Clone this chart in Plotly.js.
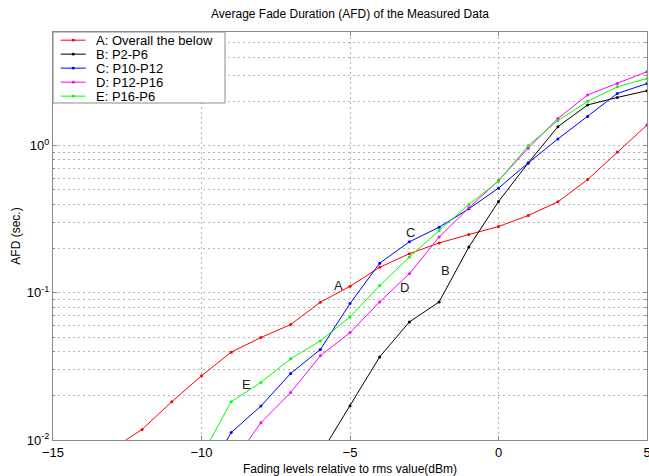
<!DOCTYPE html>
<html>
<head>
<meta charset="utf-8">
<script src="https://cdn.plot.ly/plotly-3.0.1.min.js"></script>
<style>
  html, body { margin: 0; padding: 0; background: #fff; }
  #chart { width: 649px; height: 476px; }
</style>
</head>
<body>
<div id="chart"></div>
<script>
// Fading level (dBm, relative to rms) for each measurement group
const levelsA = [-13, -12, -11, -10, -9, -8, -7, -6, -5, -4, -3, -2, -1, 0, 1, 2, 3, 4, 5];
const levelsB = [-6, -5, -4, -3, -2, -1, 0, 1, 2, 3, 4, 5];
const levelsC = [-10, -9, -8, -7, -6, -5, -4, -3, -2, -1, 0, 1, 2, 3, 4, 5];
const levelsD = [-9, -8, -7, -6, -5, -4, -3, -2, -1, 0, 1, 2, 3, 4, 5];
const levelsE = [-10, -9, -8, -7, -6, -5, -4, -3, -2, -1, 0, 1, 2, 3, 4, 5];

// Average fade duration (sec.)
const afdA = [0.0087, 0.0118, 0.0182, 0.0273, 0.0395, 0.0497, 0.0608, 0.0863, 0.1107, 0.149,
              0.1845, 0.218, 0.249, 0.282, 0.335, 0.415, 0.588, 0.906, 1.38];
const afdB = [0.008, 0.0171, 0.0367, 0.0634, 0.0867, 0.2045, 0.417, 0.763, 1.345, 1.89, 2.125, 2.36];
const afdC = [0.005, 0.01125, 0.017, 0.0283, 0.0412, 0.0845, 0.159, 0.222, 0.279, 0.372,
              0.514, 0.763, 1.11, 1.58, 2.26, 2.64];
const afdD = [0.0068, 0.0131, 0.021, 0.0373, 0.0537, 0.0867, 0.135, 0.239, 0.378, 0.579,
              0.96, 1.53, 2.21, 2.64, 3.18];
const afdE = [0.0078, 0.0182, 0.0246, 0.0356, 0.0471, 0.0686, 0.112, 0.175, 0.265, 0.398,
              0.573, 1.0, 1.48, 2.0, 2.51, 2.86];

const seriesNames = ['A: Overall the below', 'B: P2-P6', 'C: P10-P12', 'D: P12-P16', 'E: P16-P6'];
const seriesColors = ['#ff0000', '#000000', '#0000ff', '#ff00ff', '#00ff00'];

// Curve tags placed beside each line: [letter, level, AFD]
const curveTags = [
  ['A', -5.39, 0.1125],
  ['B', -1.79, 0.142],
  ['C', -2.95, 0.258],
  ['D', -3.15, 0.1095],
  ['E', -8.47, 0.024]
];

const yTickVals = [0.01, 0.1, 1];
const yTickText = ['10<sup>-2</sup>', '10<sup>-1</sup>', '10<sup>0</sup>'];
const xTickVals = [-15, -10, -5, 0, 5];

const allLevels = [levelsA, levelsB, levelsC, levelsD, levelsE];
const allAfd = [afdA, afdB, afdC, afdD, afdE];

const traces = allLevels.map((lv, i) => ({
  type: 'scatter',
  mode: 'lines+markers',
  name: seriesNames[i],
  x: lv,
  y: allAfd[i],
  line: { color: seriesColors[i], width: 1 },
  marker: { color: seriesColors[i], size: 3 },
  showlegend: false
}));

const fontFam = '"Liberation Sans", Arial, Helvetica, sans-serif';
const gridCol = '#b4b4b4';
const gridDash = '2px,3px';
const axisCol = '#8a8a8a';

// Compact boxed key in the upper-left corner of the axes (paper units)
const key = { left: 0, right: 0.2896, top: 1, bottom: 0.826,
              lineX0: 0.013, lineX1: 0.055, textX: 0.069,
              firstRow: 0.980, rowStep: 0.0343 };

const keyShapes = [{
  type: 'rect', xref: 'paper', yref: 'paper', layer: 'above',
  x0: key.left, x1: key.right, y0: key.bottom, y1: key.top,
  fillcolor: '#ffffff', line: { color: axisCol, width: 1 }
}];
const keyNotes = [];
seriesNames.forEach((nm, i) => {
  const ry = key.firstRow - i * key.rowStep;
  keyShapes.push({
    type: 'line', xref: 'paper', yref: 'paper', layer: 'above',
    x0: key.lineX0, x1: key.lineX1, y0: ry, y1: ry,
    line: { color: seriesColors[i], width: 1 }
  });
  const cx = (key.lineX0 + key.lineX1) / 2;
  keyShapes.push({
    type: 'circle', xref: 'paper', yref: 'paper', layer: 'above',
    x0: cx - 0.0025, x1: cx + 0.0025, y0: ry - 0.0035, y1: ry + 0.0035,
    fillcolor: seriesColors[i], line: { color: seriesColors[i], width: 0 }
  });
  keyNotes.push({
    xref: 'paper', yref: 'paper', x: key.textX, y: ry,
    xanchor: 'left', yanchor: 'middle', showarrow: false,
    text: nm, font: { family: fontFam, size: 13, color: '#000' }
  });
});

const tagNotes = curveTags.map(t => ({
  x: t[1], y: Math.log10(t[2]), xref: 'x', yref: 'y',
  text: t[0], showarrow: false,
  font: { family: fontFam, size: 13, color: '#222' }
}));

const layout = {
  width: 649,
  height: 476,
  margin: { l: 53, r: 2, t: 32, b: 36 },
  paper_bgcolor: '#ffffff',
  plot_bgcolor: '#ffffff',
  font: { family: fontFam, size: 12, color: '#000' },
  title: {
    text: 'Average Fade Duration (AFD) of the Measured Data',
    font: { family: fontFam, size: 12, color: '#000' },
    x: 0.5, xanchor: 'center', xref: 'paper',
    y: 0.97, yanchor: 'middle'
  },
  xaxis: {
    range: [-15, 5],
    tickvals: xTickVals,
    ticks: 'inside', ticklen: 4, tickcolor: axisCol,
    showline: true, linecolor: axisCol, linewidth: 1, mirror: 'ticks',
    showgrid: true, gridcolor: gridCol, griddash: gridDash, gridwidth: 1,
    zeroline: false,
    ticklabeloverflow: 'allow',
    tickfont: { family: fontFam, size: 13, color: '#000' },
    title: { text: 'Fading levels relative to rms value(dBm)', standoff: 10,
             font: { family: fontFam, size: 12, color: '#000' } }
  },
  yaxis: {
    type: 'log',
    range: [-2, 0.772],
    tickvals: yTickVals,
    ticktext: yTickText,
    ticks: 'inside', ticklen: 4, tickcolor: axisCol,
    showline: true, linecolor: axisCol, linewidth: 1, mirror: 'ticks',
    showgrid: true, gridcolor: gridCol, griddash: gridDash, gridwidth: 1,
    zeroline: false,
    tickfont: { family: fontFam, size: 13, color: '#000' },
    minor: {
      dtick: 'D1', ticks: 'inside', ticklen: 2, tickcolor: axisCol,
      showgrid: true, gridcolor: gridCol, griddash: gridDash, gridwidth: 1
    },
    title: { text: 'AFD (sec.)', standoff: 3,
             font: { family: fontFam, size: 12, color: '#000' } }
  },
  showlegend: false,
  shapes: keyShapes,
  annotations: tagNotes.concat(keyNotes)
};

Plotly.newPlot('chart', traces, layout, { displayModeBar: false, staticPlot: true });
</script>
</body>
</html>
